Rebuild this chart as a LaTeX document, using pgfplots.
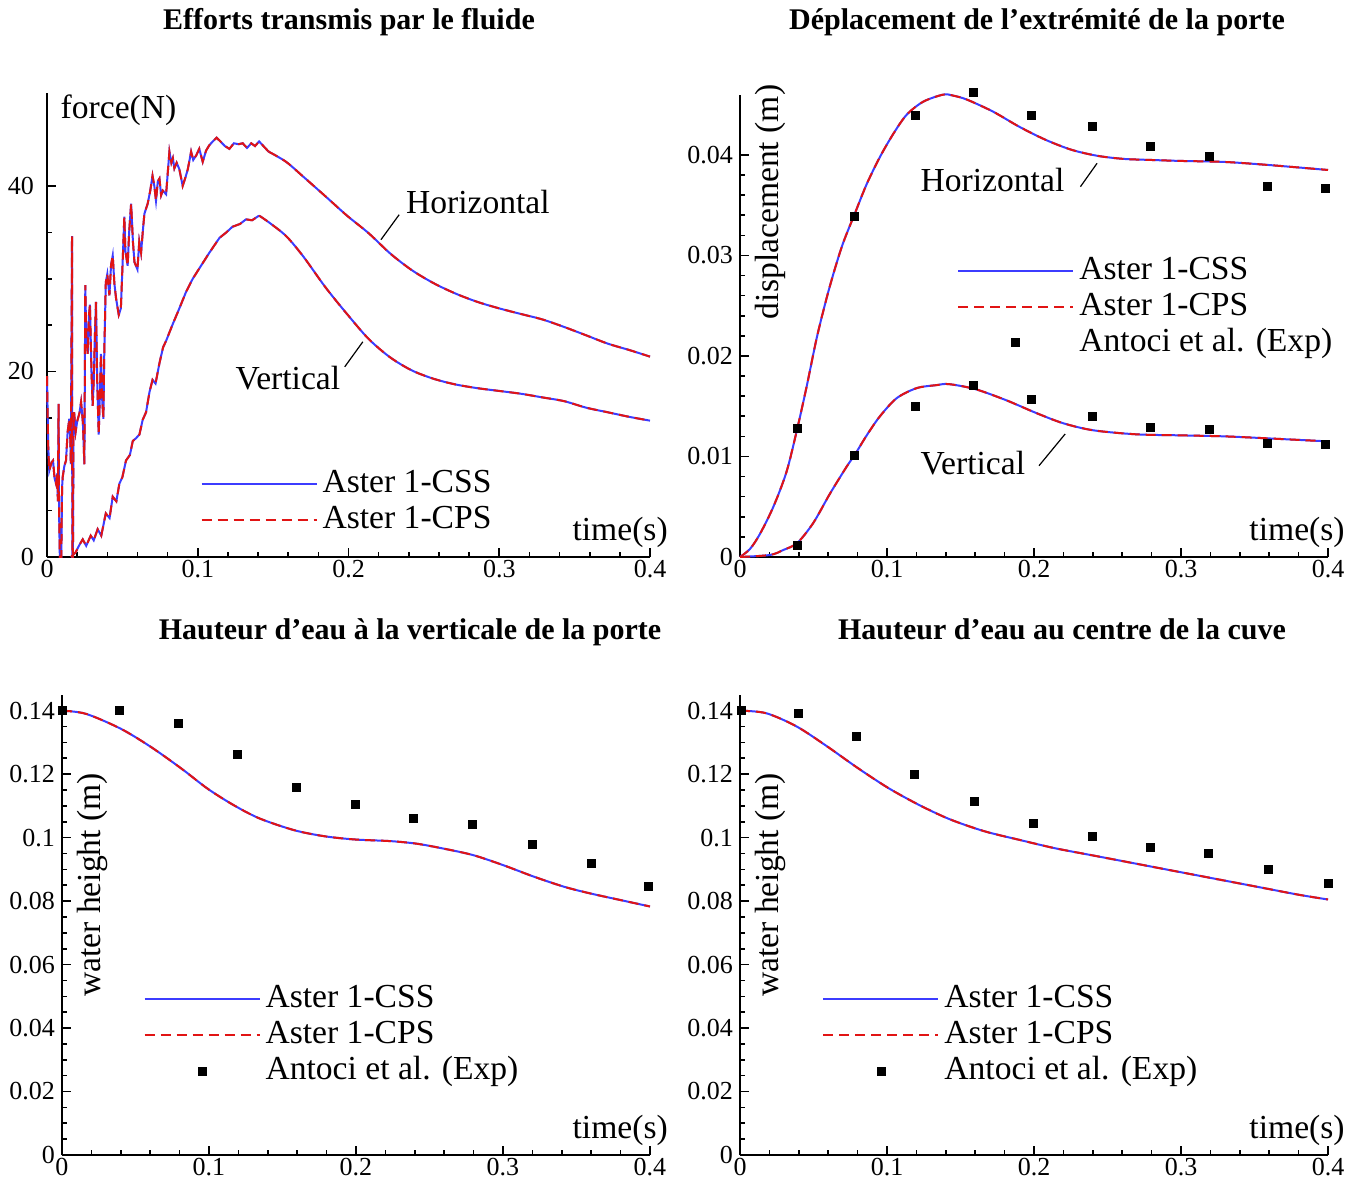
\documentclass[border=0pt]{standalone}
\usepackage{pgfplots}
\usepackage{pgfplotstable}
\usepackage{fontspec}
\setmainfont{Liberation Serif}
\pgfplotsset{compat=1.18}
\definecolor{cssblue}{RGB}{60,60,255}
\definecolor{cpsred}{RGB}{225,20,20}

\pgfplotstableread{
t F
0 19.5
0.0008 12
0.0015 9.3
0.003 10.2
0.004 10.4
0.005 8.5
0.006 7.9
0.0068 9.0
0.0072 6.0
0.0077 16.5
0.008 5
0.0085 0
0.0095 0
0.0100 7.5
0.0104 8.6
0.0115 9.8
0.0126 10.4
0.0137 13.5
0.0148 14.9
0.0155 12.5
0.0158 10
0.0166 34.6
0.0168 0
0.0172 0
0.0176 14
0.018 15.6
0.019 13.5
0.020 14.6
0.0215 15.5
0.0226 16.7
0.0238 14.5
0.0248 10
0.0254 29.3
0.026 24
0.027 21.9
0.0278 26
0.0285 27.2
0.0295 20
0.0303 16.3
0.031 19
0.0318 24
0.0325 27.5
0.0333 19
0.0343 13.2
0.035 17
0.0358 21.9
0.0366 17
0.0374 14.9
0.038 22
0.039 29.6
0.040 30.5
0.0414 28.2
0.0425 31.5
0.0436 32.5
0.0447 29.5
0.0458 27.9
0.0476 26.1
0.049 26.8
0.050 31
0.0513 36.7
0.052 33
0.0535 31.4
0.0545 35
0.0558 38.1
0.057 34
0.058 31.8
0.060 31
0.0612 34
0.0624 32.8
0.0635 35
0.0646 37
0.0668 38.1
0.0685 39.5
0.070 41.1
0.0712 40
0.0723 38.4
0.0735 40.5
0.0746 40.8
0.0757 39
0.0768 39.5
0.079 39.1
0.0812 43.7
0.0825 42.5
0.0835 43
0.0845 41.9
0.086 42.5
0.0878 41.8
0.090 40
0.092 41
0.0934 41.8
0.0956 43.7
0.097 42.8
0.099 43.3
0.101 44
0.1033 42.6
0.1055 43.8
0.1077 44.4
0.110 44.8
0.1125 45.2
0.115 44.8
0.118 44.3
0.121 44.0
0.124 44.6
0.127 44.5
0.1298 44.6
0.1327 44.1
0.1355 44.6
0.138 44.3
0.1407 44.8
0.147 43.7
}\forceHa

\pgfplotstableread{
t F
0.147 43.7
0.1586 42.6
0.170 41.0
0.1846 38.9
0.199 36.8
0.2134 34.9
0.2278 32.7
0.2422 30.9
0.2567 29.5
0.271 28.4
0.2855 27.5
0.300 26.8
0.3143 26.2
0.3288 25.6
0.343 24.8
0.3576 23.9
0.372 23.0
0.3865 22.3
0.400 21.6
}\forceHb

\pgfplotstableread{
t F
0.0160 0
0.019 0.5
0.0215 1.3
0.0237 1.9
0.026 1.2
0.029 2.3
0.031 1.8
0.0336 3.0
0.036 2.3
0.039 4.7
0.0415 4.2
0.0436 6.5
0.046 6.0
0.048 7.9
0.050 8.6
0.0524 10.4
0.055 11.0
0.0569 12.5
0.059 12.8
0.0613 13.2
0.0635 14.8
0.0657 15.6
0.068 17.8
0.070 19.1
0.072 18.7
0.0746 20.9
0.077 22.6
0.079 23.3
0.0834 25.1
0.0878 26.8
0.0923 28.6
0.0967 30.0
0.101 31.1
0.1077 32.8
0.1144 34.4
0.119 35.0
0.123 35.6
0.128 35.9
0.132 36.4
0.136 36.3
0.1407 36.8
}\forceVa

\pgfplotstableread{
t F
0.1407 36.8
0.147 36.1
0.1586 34.6
0.170 32.4
0.1846 29.1
0.199 26.2
0.2134 23.5
0.2278 21.5
0.2422 20.1
0.2567 19.2
0.271 18.6
0.2855 18.2
0.300 17.9
0.3143 17.6
0.3288 17.2
0.343 16.8
0.3576 16.1
0.372 15.6
0.3865 15.1
0.400 14.7
}\forceVb

\pgfplotstableread{
t d
0 0
0.0068 0.0008
0.0136 0.0023
0.0227 0.0050
0.0317 0.0085
0.039 0.0128
0.0454 0.0170
0.0522 0.0218
0.059 0.0258
0.0646 0.0287
0.0703 0.0313
0.0782 0.0342
0.0862 0.0371
0.0952 0.0398
0.1043 0.0421
0.1134 0.0440
0.1247 0.0453
0.1383 0.0460
0.1450 0.0459
0.1544 0.0455
0.1722 0.0443
0.190 0.0428
0.2079 0.0415
0.2257 0.0405
0.2435 0.0399
0.2613 0.0396
0.2791 0.0395
0.300 0.0394
0.3296 0.0393
0.3593 0.0390
0.400 0.0385
}\dispH

\pgfplotstableread{
t d
0 0
0.0204 0.0002
0.0295 0.0007
0.039 0.0014
0.0499 0.0034
0.0612 0.0063
0.0726 0.0090
0.0782 0.0102
0.0862 0.0121
0.0952 0.0140
0.1066 0.0158
0.1202 0.0168
0.1338 0.0171
0.1420 0.0172
0.160 0.0167
0.181 0.0156
0.2019 0.0143
0.220 0.0133
0.2405 0.0126
0.270 0.0122
0.300 0.0121
0.3296 0.0120
0.3593 0.0118
0.400 0.0115
}\dispV

\pgfplotstableread{
t d
0.039 0.0128
0.078 0.0339
0.1195 0.0439
0.159 0.0462
0.1985 0.0439
0.2395 0.0428
0.2795 0.0408
0.3195 0.0399
0.3585 0.0369
0.3985 0.0367
}\expH

\pgfplotstableread{
t d
0.039 0.0012
0.078 0.0101
0.1195 0.0150
0.159 0.0171
0.1985 0.0157
0.2395 0.0140
0.2795 0.0129
0.3195 0.0127
0.3585 0.0113
0.3985 0.0112
}\expV

\pgfplotstableread{
t h
0 0.1400
0.0163 0.1390
0.040 0.1343
0.0607 0.1285
0.0814 0.1217
0.0991 0.1154
0.1169 0.1102
0.1346 0.1060
0.1583 0.1023
0.179 0.1004
0.1997 0.0994
0.2234 0.0989
0.2411 0.0981
0.2589 0.0966
0.2796 0.0945
0.3003 0.0913
0.321 0.0877
0.3417 0.0845
0.3595 0.0824
0.3802 0.0803
0.400 0.0783
}\hGate

\pgfplotstableread{
t h
0.0006 0.1402
0.0393 0.1402
0.079 0.1360
0.1192 0.1261
0.1595 0.1159
0.1997 0.1104
0.239 0.1059
0.2793 0.1042
0.32 0.0978
0.36 0.0920
0.399 0.0845
}\expGate

\pgfplotstableread{
t h
0 0.1400
0.0178 0.1392
0.0386 0.1350
0.0594 0.1287
0.0802 0.1219
0.101 0.1156
0.1218 0.1103
0.1426 0.1058
0.1663 0.1020
0.190 0.0993
0.2138 0.0967
0.2376 0.0946
0.2614 0.0925
0.2851 0.0904
0.3089 0.0883
0.3326 0.0862
0.3564 0.0841
0.3801 0.0820
0.400 0.0805
}\hCenter

\pgfplotstableread{
t h
0.0009 0.1400
0.0395 0.1392
0.0793 0.1318
0.1188 0.1198
0.1595 0.1114
0.1996 0.1044
0.2394 0.1004
0.2792 0.0969
0.3187 0.0951
0.3594 0.0901
0.400 0.0857
}\expCenter

\tikzset{lbl/.style={inner sep=0pt, font=\fontsize{16.8}{18}\selectfont}}

\pgfplotsset{
  tecstyle/.style={
    scale only axis, anchor=south west,
    axis lines=left, axis line style={-, line width=1pt},
    xmin=0, xmax=0.4, xtick={0,0.1,0.2,0.3,0.4}, minor x tick num=4,
    tick align=inside, major tick length=4.5pt, minor tick length=2.5pt,
    tick style={black, line width=0.8pt},
    tick label style={font=\fontsize{13}{15}\selectfont},
    /pgf/number format/assume math mode=true,
    scaled ticks=false,
    xticklabel style={/pgf/number format/fixed, inner ysep=0.5pt, yshift=-1pt},
    yticklabel style={/pgf/number format/fixed, /pgf/number format/precision=3},
    clip=false,
    legend cell align=left,
    legend style={draw=none, fill=none, inner sep=0pt, anchor=north west,
      font=\fontsize{16.8}{18}\selectfont, row sep=1.5pt,
      nodes={inner ysep=0pt, inner xsep=2.5pt, text height=12.5pt, text depth=4pt}},
    legend image code/.code={\draw[##1] (0pt,0pt) -- (57.5pt,0pt);},
  },
  css/.style={color=cssblue, line width=1pt, no markers},
  cps/.style={color=cpsred, line width=1pt, dash pattern=on 5pt off 3pt, no markers},
  exps/.style={only marks, mark=square*, mark size=2pt, black,
    legend image code/.code={\draw[mark repeat=2,mark phase=2,##1] plot coordinates {(0pt,0pt) (28.75pt,0pt) (57.5pt,0pt)};}},
}

\begin{document}
\begin{tikzpicture}
\path[use as bounding box] (0,0) rectangle (681.5pt,591pt);

\node[font=\bfseries\fontsize{15}{17}\selectfont, anchor=base] at (174.5pt,576pt) {Efforts transmis par le fluide};
\node[font=\bfseries\fontsize{15}{17}\selectfont, anchor=base] at (518.5pt,576pt) {Déplacement de l’extrémité de la porte};
\node[font=\bfseries\fontsize{15}{17}\selectfont, anchor=base] at (205pt,271pt) {Hauteur d’eau à la verticale de la porte};
\node[font=\bfseries\fontsize{15}{17}\selectfont, anchor=base] at (531pt,271pt) {Hauteur d’eau au centre de la cuve};

% Top-left: forces
\begin{axis}[tecstyle, at={(23.5pt,312.5pt)}, width=301.5pt, height=231.9pt,
  ymin=0, ymax=50, ytick={0,20,40}, minor y tick num=3,
  yticklabel style={xshift=-3pt},
  legend style={at={(axis description cs:0.254,0.193)}}]
\addplot[css] table[x=t,y=F] {\forceHa};
\addlegendentry{Aster 1-CSS}
\addplot[cps] table[x=t,y=F] {\forceHa};
\addlegendentry{Aster 1-CPS}
\addplot[css, smooth, forget plot] table[x=t,y=F] {\forceHb};
\addplot[cps, smooth, forget plot] table[x=t,y=F] {\forceHb};
\addplot[css, forget plot] table[x=t,y=F] {\forceVa};
\addplot[cps, forget plot] table[x=t,y=F] {\forceVa};
\addplot[css, smooth, forget plot] table[x=t,y=F] {\forceVb};
\addplot[cps, smooth, forget plot] table[x=t,y=F] {\forceVb};
\draw[line width=0.6pt] (axis cs:0.2215,34.2) -- (axis cs:0.2336,36.9);
\draw[line width=0.6pt] (axis cs:0.1975,20.5) -- (axis cs:0.2095,23.2);
\node[lbl, anchor=base west] at (axis cs:0.2379,37.0) {Horizontal};
\node[lbl, anchor=base west] at (axis cs:0.1249,18.1) {Vertical};
\node[lbl, anchor=north west] at (axis description cs:0.022,0.998) {force(N)};
\node[lbl, anchor=base east] at (axis description cs:1.03,0.035) {time(s)};
\end{axis}

% Top-right: displacement
\begin{axis}[tecstyle, at={(370pt,312.5pt)}, width=294pt, height=231.2pt,
  ymin=0, ymax=0.046, ytick={0,0.01,0.02,0.03,0.04}, minor y tick num=4,
  legend style={at={(axis description cs:0.369,0.656)}}]
\addplot[css, smooth] table[x=t,y=d] {\dispH};
\addlegendentry{Aster 1-CSS}
\addplot[cps, smooth] table[x=t,y=d] {\dispH};
\addlegendentry{Aster 1-CPS}
\addplot[exps] table[x=t,y=d] {\expH};
\addlegendentry{Antoci et al. (Exp)}
\addplot[css, smooth, forget plot] table[x=t,y=d] {\dispV};
\addplot[cps, smooth, forget plot] table[x=t,y=d] {\dispV};
\addplot[exps, forget plot] table[x=t,y=d] {\expV};
\draw[line width=0.6pt] (axis cs:0.2316,0.03684) -- (axis cs:0.2429,0.03917);
\draw[line width=0.6pt] (axis cs:0.2034,0.00908) -- (axis cs:0.2212,0.01224);
\node[lbl, anchor=base west] at (axis cs:0.1226,0.03634) {Horizontal};
\node[lbl, anchor=base west] at (axis cs:0.1226,0.00825) {Vertical};
\node[lbl, anchor=east, rotate=90] at (axis description cs:0.051,1.022) {displacement (m)};
\node[lbl, anchor=base east] at (axis description cs:1.029,0.035) {time(s)};
\end{axis}

% Bottom-left: water height at gate
\begin{axis}[tecstyle, at={(31pt,13.5pt)}, width=294pt, height=230.1pt,
  ymin=0, ymax=0.145, ytick={0,0.02,0.04,0.06,0.08,0.1,0.12,0.14}, minor y tick num=3,
  legend style={at={(axis description cs:0.138,0.375)}}]
\addplot[css, smooth] table[x=t,y=h] {\hGate};
\addlegendentry{Aster 1-CSS}
\addplot[cps, smooth] table[x=t,y=h] {\hGate};
\addlegendentry{Aster 1-CPS}
\addplot[exps] table[x=t,y=h] {\expGate};
\addlegendentry{Antoci et al. (Exp)}
\node[lbl, anchor=east, rotate=90] at (axis description cs:0.051,0.831) {water height (m)};
\node[lbl, anchor=base east] at (axis description cs:1.031,0.035) {time(s)};
\end{axis}

% Bottom-right: water height at centre
\begin{axis}[tecstyle, at={(370pt,13.5pt)}, width=294pt, height=230.1pt,
  ymin=0, ymax=0.145, ytick={0,0.02,0.04,0.06,0.08,0.1,0.12,0.14}, minor y tick num=3,
  legend style={at={(axis description cs:0.1395,0.375)}}]
\addplot[css, smooth] table[x=t,y=h] {\hCenter};
\addlegendentry{Aster 1-CSS}
\addplot[cps, smooth] table[x=t,y=h] {\hCenter};
\addlegendentry{Aster 1-CPS}
\addplot[exps] table[x=t,y=h] {\expCenter};
\addlegendentry{Antoci et al. (Exp)}
\node[lbl, anchor=east, rotate=90] at (axis description cs:0.051,0.831) {water height (m)};
\node[lbl, anchor=base east] at (axis description cs:1.029,0.035) {time(s)};
\end{axis}
\end{tikzpicture}
\end{document}
